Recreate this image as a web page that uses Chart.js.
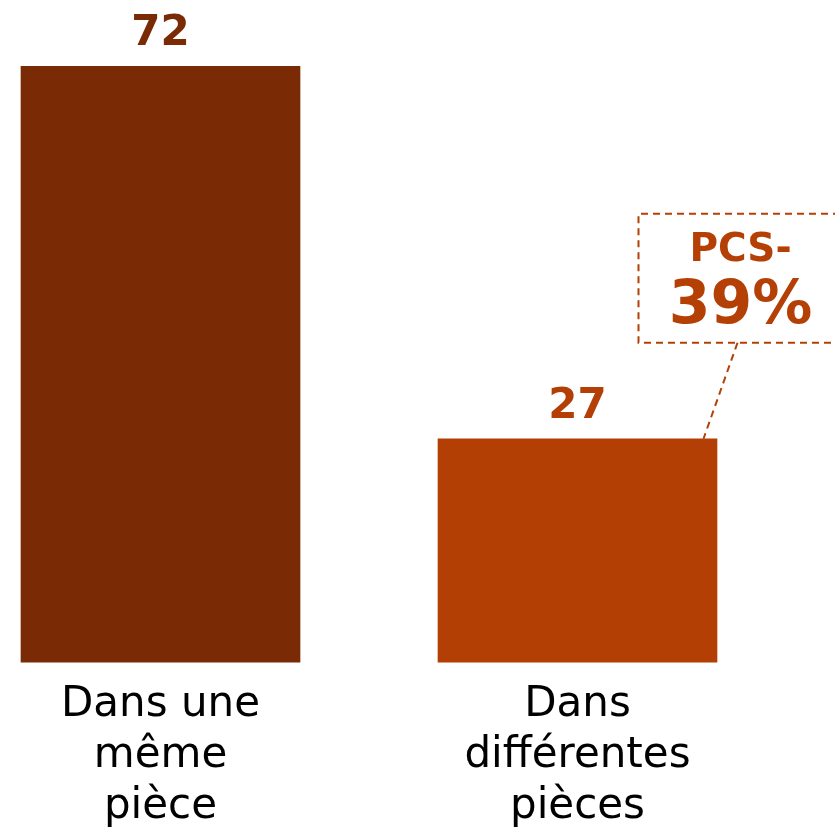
<!DOCTYPE html>
<html>
<head>
<meta charset="utf-8">
<script src="https://cdn.jsdelivr.net/npm/chart.js@4"></script>
<style>
  html, body { margin: 0; padding: 0; background: #fff; overflow: hidden; }
  #wrap { width: 835px; height: 843px; position: relative; }
</style>
</head>
<body>
<div id="wrap"><canvas id="chart"></canvas></div>
<script>
"use strict";

// data
const CATEGORIES = [["Dans une", "même", "pièce"], ["Dans", "différentes", "pièces"]];
const VALUES = [72, 27];
const BAR_COLORS = ["#7a2a05", "#b33f05"];
const ANNOT_LABEL = "PCS-";
const ANNOT_VALUE = "39%";
const ANNOT_COLOR = "#b44006";

const FONT = "'DejaVu Sans', Verdana, sans-serif";

// value above each bar + dashed callout on the second bar
const labelsPlugin = {
  id: "labels",
  afterDatasetsDraw(chart) {
    const ctx = chart.ctx;
    const bars = chart.getDatasetMeta(0).data;
    ctx.save();
    ctx.textAlign = "center";
    ctx.textBaseline = "alphabetic";
    ctx.font = "bold 42px " + FONT;
    bars.forEach((b, i) => {
      ctx.fillStyle = BAR_COLORS[i];
      ctx.fillText(String(VALUES[i]), b.x, b.y - 21);
    });

    // callout
    const b = bars[1];
    const left = b.x + 61, top = b.y - 225, bottom = b.y - 96;
    ctx.strokeStyle = ANNOT_COLOR;
    ctx.lineWidth = 2;
    ctx.setLineDash([7, 5]);
    ctx.beginPath();
    ctx.moveTo(chart.width + 5, top);
    ctx.lineTo(left, top);
    ctx.lineTo(left, bottom);
    ctx.lineTo(chart.width + 5, bottom);
    ctx.stroke();
    ctx.beginPath();
    ctx.moveTo(b.x + 160, bottom);
    ctx.lineTo(b.x + 126, b.y);
    ctx.stroke();
    ctx.setLineDash([]);
    ctx.fillStyle = ANNOT_COLOR;
    ctx.font = "bold 39px " + FONT;
    ctx.fillText(ANNOT_LABEL, b.x + 163, top + 47);
    ctx.font = "bold 60px " + FONT;
    ctx.fillText(ANNOT_VALUE, b.x + 163, top + 109);
    ctx.restore();
  },
};

new Chart(document.getElementById("chart"), {
  type: "bar",
  data: {
    labels: CATEGORIES,
    datasets: [{
      data: VALUES,
      backgroundColor: BAR_COLORS,
      barThickness: 279,
      clip: false,
    }],
  },
  options: {
    responsive: true,
    maintainAspectRatio: false,
    animation: false,
    layout: { padding: { left: 160.5, right: 257.5, top: 0, bottom: -7 } },
    plugins: { legend: { display: false }, tooltip: { enabled: false } },
    scales: {
      x: {
        offset: false,
        grid: { display: false, drawTicks: false },
        border: { display: false },
        ticks: {
          color: "#000",
          maxRotation: 0,
          autoSkip: false,
          padding: 17,
          font: { family: FONT, size: 42, lineHeight: 1.22 },
        },
      },
      y: { display: false, min: 0, max: 80 },
    },
  },
  plugins: [labelsPlugin],
});
</script>
</body>
</html>
